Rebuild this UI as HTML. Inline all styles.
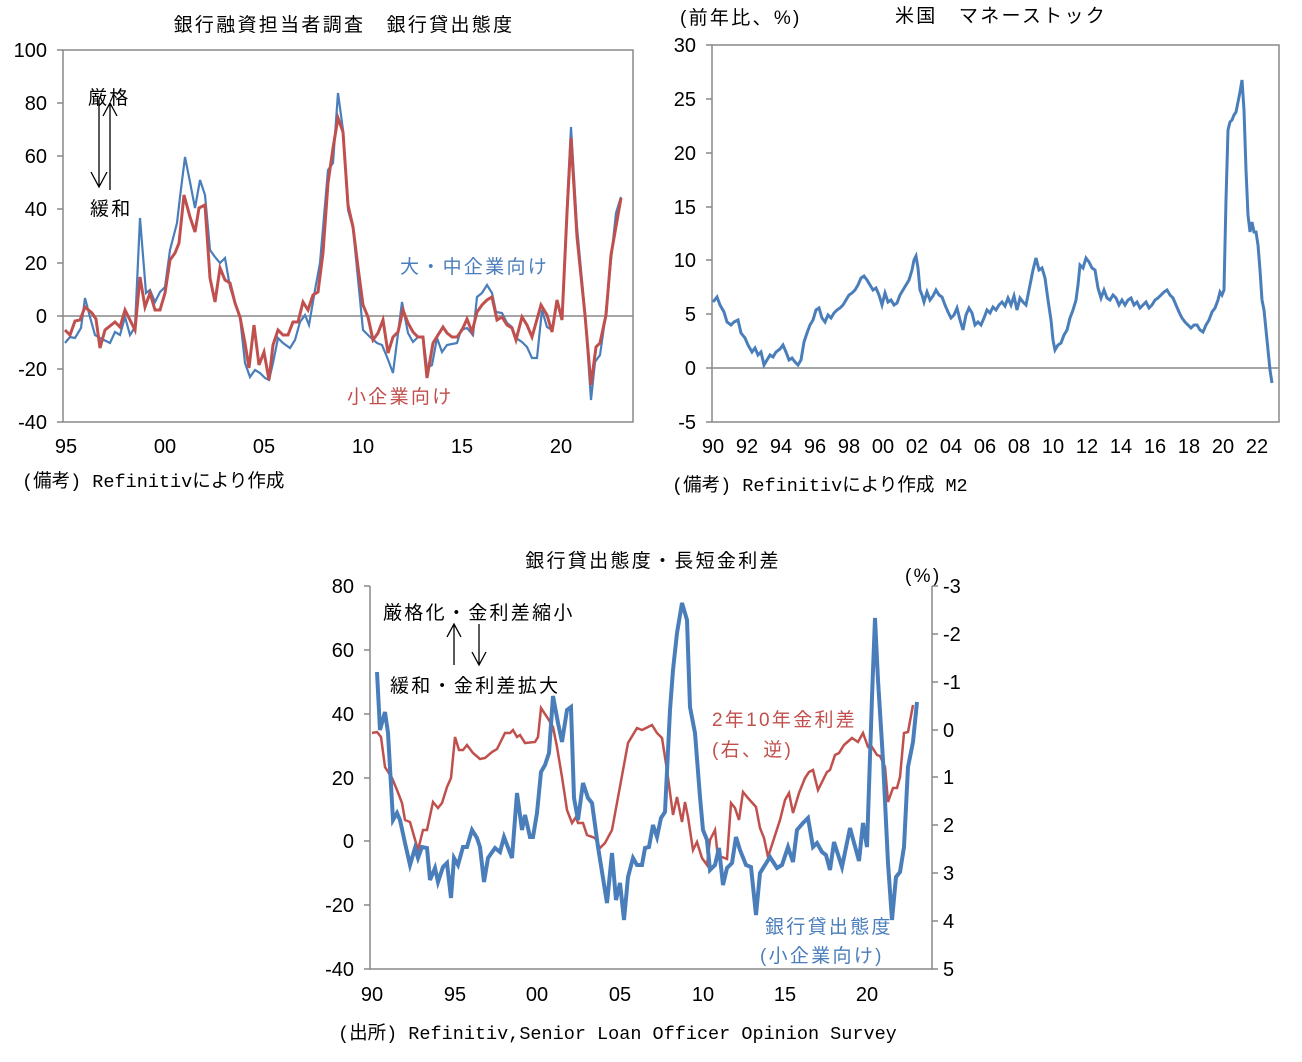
<!DOCTYPE html>
<html><head><meta charset="utf-8"><style>
body{margin:0;background:#fff;}
svg{display:block;}
text{font-family:"Liberation Sans Narrow","Liberation Sans","Noto Sans CJK JP",sans-serif;fill:#000;}
.t{font-size:20px;}
.j{font-family:"Liberation Sans","Noto Sans CJK JP",sans-serif;font-size:19px;letter-spacing:2.3px;}
.m{font-family:"Liberation Mono","Noto Sans CJK JP",monospace;font-size:18.5px;}
</style></head><body>
<svg width="1302" height="1062" viewBox="0 0 1302 1062" xmlns="http://www.w3.org/2000/svg">
<!-- Chart 1 -->
<text class="j" x="344" y="31" text-anchor="middle">銀行融資担当者調査　銀行貸出態度</text>
<g stroke="#888" stroke-width="1.5" fill="none">
<rect x="63" y="50" width="570" height="372"/>
<line x1="63" y1="316" x2="633" y2="316"/>
<path d="M57 50H63M57 103H63M57 156H63M57 209H63M57 263H63M57 316H63M57 369H63M57 422H63"/>
</g>
<g class="t" text-anchor="end">
<text x="47" y="57">100</text><text x="47" y="110">80</text><text x="47" y="163">60</text><text x="47" y="216">40</text><text x="47" y="270">20</text><text x="47" y="323">0</text><text x="47" y="376">-20</text><text x="47" y="429">-40</text>
</g>
<g class="t" text-anchor="middle">
<text x="66" y="453">95</text><text x="165" y="453">00</text><text x="264" y="453">05</text><text x="363" y="453">10</text><text x="462" y="453">15</text><text x="561" y="453">20</text>
</g>
<text class="m" x="22" y="487">(備考) Refinitivにより作成</text>
<text class="j" x="88" y="104">厳格</text>
<text class="j" x="90" y="215">緩和</text>
<g stroke="#000" stroke-width="1.3" fill="none">
<path d="M99 100V187M91 172L99 187L107 172"/>
<path d="M110 190V103M103 116L110 103L117 116"/>
</g>
<polyline fill="none" stroke="#4a7ebb" stroke-width="2.2" points="65,343 70,337 75,338 81,328 85,298 90,317 95,335 100,338 110,343 115,332 120,335 125,317 130,335 135,327 140,218 146,293 150,290 155,302 160,292 165,287 170,250 177,223 180,197 185,157 190,182 195,208 200,180 205,195 210,250 215,257 220,263 225,258 230,287 235,303 240,317 245,363 250,377 255,370 260,373 265,378 269,380 273,363 278,338 283,343 290,348 295,340 300,322 305,315 309,325 315,290 320,263 328,170 333,163 338,93 343,130 348,210 353,228 363,330 370,337 377,343 382,345 387,357 393,373 402,302 408,333 413,342 418,337 423,337 427,368 432,365 437,338 442,352 447,345 457,343 461,330 467,328 473,335 477,297 482,293 487,285 492,293 496,312 502,313 507,323 512,327 516,338 522,342 527,347 532,358 537,358 542,310 547,327 552,330 557,302 562,318 567,207 571,127 577,227 585,313 591,400 595,362 600,355 605,320 611,260 616,213 621,197"/>
<polyline fill="none" stroke="#c0504d" stroke-width="3" points="65,330 70,335 75,321 80,320 85,307 92,313 96,319 100,348 105,330 115,322 120,327 125,310 135,330 140,277 145,307 150,293 155,310 160,310 165,293 170,260 175,253 179,243 184,195 190,217 195,232 199,208 205,205 210,278 215,302 220,268 225,280 230,283 235,303 240,317 245,343 249,368 254,325 259,365 264,352 269,380 273,345 278,330 283,335 288,335 293,322 298,322 303,302 308,310 313,295 318,292 323,253 328,183 333,148 338,118 343,132 348,205 353,227 358,267 363,305 368,317 373,340 378,333 383,320 388,353 393,337 398,332 403,310 408,323 413,332 418,337 423,337 427,378 433,343 438,335 443,327 447,333 452,337 457,337 462,330 467,319 472,332 477,312 482,305 487,300 492,297 497,320 502,317 507,325 512,328 516,340 522,317 527,325 532,337 541,305 547,315 552,332 557,300 562,320 567,213 571,138 577,237 585,315 591,385 596,347 600,343 606,315 611,255 621,198"/>
<text class="j" x="400" y="273" style="fill:#4a7ebb">大・中企業向け</text>
<text class="j" x="347" y="403" style="fill:#c0504d">小企業向け</text>

<!-- Chart 2 -->
<text class="j" x="680" y="24">(前年比、%)</text>
<text class="j" x="895" y="22">米国　マネーストック</text>
<g stroke="#888" stroke-width="1.5" fill="none">
<rect x="712" y="45" width="567" height="377"/>
<line x1="712" y1="368" x2="1279" y2="368"/>
<path d="M706 45H712M706 99H712M706 153H712M706 207H712M706 260H712M706 314H712M706 368H712M706 422H712"/>
</g>
<g class="t" text-anchor="end">
<text x="696" y="52">30</text><text x="696" y="106">25</text><text x="696" y="160">20</text><text x="696" y="214">15</text><text x="696" y="267">10</text><text x="696" y="321">5</text><text x="696" y="375">0</text><text x="696" y="429">-5</text>
</g>
<g class="t" text-anchor="middle">
<text x="713" y="453">90</text><text x="747" y="453">92</text><text x="781" y="453">94</text><text x="815" y="453">96</text><text x="849" y="453">98</text><text x="883" y="453">00</text><text x="917" y="453">02</text><text x="951" y="453">04</text><text x="985" y="453">06</text><text x="1019" y="453">08</text><text x="1053" y="453">10</text><text x="1087" y="453">12</text><text x="1121" y="453">14</text><text x="1155" y="453">16</text><text x="1189" y="453">18</text><text x="1223" y="453">20</text><text x="1257" y="453">22</text>
</g>
<text class="m" x="672" y="491">(備考) Refinitivにより作成 M2</text>
<polyline fill="none" stroke="#4a7ebb" stroke-width="3" points="713,302 717,297 720,305 724,312 727,322 731,325 734,322 738,320 741,333 745,338 748,345 752,352 755,348 758,355 761,352 764,365 767,360 770,355 773,357 776,352 780,349 783,345 786,352 789,360 792,358 795,362 798,365 801,360 804,342 807,333 810,325 813,320 816,310 819,308 822,318 825,322 828,315 831,318 834,313 837,310 840,308 843,305 846,300 849,295 852,293 855,290 858,285 861,278 864,276 867,280 870,285 873,290 876,288 879,295 882,305 885,293 888,302 891,300 894,305 897,303 900,295 903,290 906,285 909,280 912,270 914,260 916,256 918,268 920,290 922,295 924,302 927,292 930,300 933,296 936,290 939,295 942,297 945,305 948,312 951,318 954,315 957,308 960,320 963,330 966,315 969,308 972,313 975,325 978,322 981,325 984,318 987,310 990,313 993,307 996,310 999,305 1002,302 1005,306 1008,298 1011,305 1014,296 1017,310 1020,298 1023,302 1026,305 1029,290 1033,270 1036,258 1039,270 1042,268 1045,278 1048,300 1051,320 1053,340 1055,350 1058,345 1061,343 1064,335 1067,330 1070,318 1073,310 1076,300 1078,285 1080,265 1083,268 1086,258 1089,262 1092,268 1095,270 1098,288 1101,298 1104,290 1107,298 1110,300 1113,295 1116,298 1119,305 1122,300 1125,305 1128,300 1131,298 1134,305 1137,302 1140,308 1143,305 1146,302 1149,308 1152,305 1155,300 1158,298 1161,295 1164,292 1167,290 1170,295 1173,298 1176,305 1179,312 1182,318 1185,322 1188,325 1191,328 1194,325 1197,325 1200,330 1203,332 1206,325 1209,320 1212,312 1215,308 1218,300 1220,292 1222,295 1224,290 1226,200 1228,130 1230,122 1232,120 1234,115 1236,112 1238,102 1240,92 1242,80 1244,110 1246,170 1248,215 1250,232 1252,222 1254,232 1256,232 1258,245 1260,270 1262,300 1264,310 1266,330 1268,350 1270,370 1272,383"/>

<!-- Chart 3 -->
<text class="j" x="653" y="567" text-anchor="middle">銀行貸出態度・長短金利差</text>
<text class="j" x="905" y="582">(%)</text>
<g stroke="#888" stroke-width="1.5" fill="none">
<path d="M370 586V969H932V586"/>
<path d="M364 586H370M364 650H370M364 714H370M364 778H370M364 841H370M364 905H370M364 969H370"/>
<path d="M932 586H938M932 634H938M932 682H938M932 730H938M932 777H938M932 825H938M932 873H938M932 921H938M932 969H938"/>
</g>
<g class="t" text-anchor="end">
<text x="354" y="593">80</text><text x="354" y="657">60</text><text x="354" y="721">40</text><text x="354" y="785">20</text><text x="354" y="848">0</text><text x="354" y="912">-20</text><text x="354" y="976">-40</text>
</g>
<g class="t">
<text x="943" y="593">-3</text><text x="943" y="641">-2</text><text x="943" y="689">-1</text><text x="943" y="737">0</text><text x="943" y="784">1</text><text x="943" y="832">2</text><text x="943" y="880">3</text><text x="943" y="928">4</text><text x="943" y="976">5</text>
</g>
<g class="t" text-anchor="middle">
<text x="372" y="1001">90</text><text x="455" y="1001">95</text><text x="537" y="1001">00</text><text x="620" y="1001">05</text><text x="703" y="1001">10</text><text x="785" y="1001">15</text><text x="867" y="1001">20</text>
</g>
<text class="m" x="338" y="1039">(出所) Refinitiv,Senior Loan Officer Opinion Survey</text>
<text class="j" x="383" y="619">厳格化・金利差縮小</text>
<text class="j" x="390" y="692">緩和・金利差拡大</text>
<g stroke="#000" stroke-width="1.3" fill="none">
<path d="M454 665V624M447 637L454 624L461 637"/>
<path d="M479 624V665M472 652L479 665L486 652"/>
</g>
<polyline fill="none" stroke="#c0504d" stroke-width="2.5" points="372,733 377,732 381,737 385,767 392,778 397,790 402,803 405,820 410,822 418,850 423,830 427,830 433,802 438,808 442,803 447,787 451,778 455,737 459,750 463,750 467,745 473,753 480,759 485,758 492,752 497,749 505,733 510,733 513,730 517,737 520,735 525,743 535,742 538,737 541,708 547,717 553,727 557,747 562,777 567,810 572,823 576,817 578,823 583,823 587,835 595,838 600,848 605,843 612,830 628,743 637,728 642,730 652,725 657,733 662,738 667,770 673,815 677,797 682,822 685,802 688,817 693,850 697,842 702,858 707,865 710,840 715,830 718,858 722,857 727,859 731,803 735,808 739,820 743,792 748,798 756,807 760,828 764,838 768,857 780,820 785,800 789,793 793,813 799,793 805,778 809,772 813,770 818,790 827,772 830,770 835,755 839,753 844,745 852,738 858,742 863,733 868,747 872,747 877,755 880,756 885,767 888,802 893,788 897,788 900,777 904,733 908,732 913,705"/>
<polyline fill="none" stroke="#4a7ebb" stroke-width="4" points="377,672 380,730 385,712 388,733 393,820 397,813 400,820 405,843 410,865 415,848 418,858 422,847 427,848 430,880 435,868 438,882 443,867 447,863 451,898 454,858 458,865 463,847 467,847 472,830 477,838 480,847 484,882 488,858 495,848 500,852 504,837 512,858 517,793 522,830 525,815 530,837 533,837 537,813 541,772 545,765 549,753 553,696 558,723 562,742 567,710 571,707 574,798 578,820 583,783 588,798 592,803 598,847 607,903 612,853 616,900 620,883 624,920 628,877 633,858 637,865 642,865 645,848 649,847 653,825 657,837 661,818 665,812 670,710 673,670 677,633 682,603 687,620 690,707 695,733 700,797 703,830 707,840 710,870 715,865 719,848 723,885 727,868 732,863 736,837 740,850 746,865 751,867 756,915 760,873 765,865 770,857 777,868 782,865 788,847 793,862 797,830 803,823 808,818 813,847 817,843 822,852 826,855 830,870 834,842 842,867 850,828 859,861 863,823 867,847 872,697 875,618 878,680 883,760 888,863 892,920 896,877 900,872 904,847 908,767 913,742 917,702"/>
<text class="j" x="712" y="726" style="fill:#c0504d">2年10年金利差</text>
<text class="j" x="712" y="756" style="fill:#c0504d">(右、逆)</text>
<text class="j" x="765" y="933" style="fill:#4a7ebb">銀行貸出態度</text>
<text class="j" x="760" y="962" style="fill:#4a7ebb">(小企業向け)</text>
</svg>
</body></html>
